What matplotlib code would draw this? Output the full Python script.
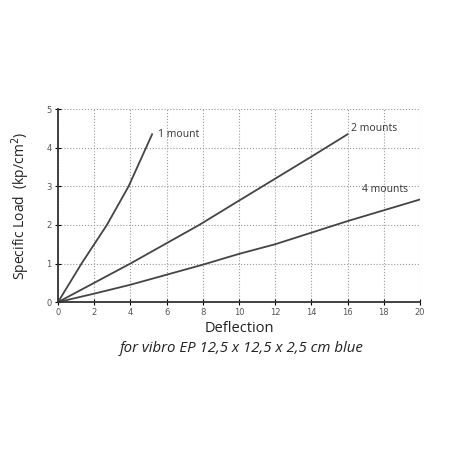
import matplotlib
matplotlib.use('Agg')
import matplotlib.pyplot as plt
import numpy as np

# values
x_one = [0, 1.3, 2.7, 3.9, 5.2]
y_one = [0, 1.0, 2.0, 3.0, 4.35]
x_two = [0, 4.0, 7.8, 10, 12, 14, 16]
y_two = [0, 1.0, 2.0, 2.63, 3.2, 3.77, 4.35]
x_four = [0, 2, 4, 8, 10, 12, 14, 16, 18, 20]
y_four = [0, 0.22, 0.45, 0.97, 1.25, 1.5, 1.8, 2.1, 2.38, 2.66]
xticks = list(range(0, 21, 2))
yticks = list(range(0, 6))

fig = plt.figure(figsize=(4.55, 4.55), dpi=100)
ax = fig.add_axes([0.1275, 0.336, 0.7955, 0.424])

line_kw = dict(color='#444', lw=1.3)
ax.plot(x_one, y_one, **line_kw)
ax.plot(x_two, y_two, **line_kw)
ax.plot(x_four, y_four, **line_kw)

lab_kw = dict(fontsize=7.5, family='Open Sans', color='#333', va='center')
ax.text(5.55, 4.35, '1 mount', **lab_kw)
ax.text(16.2, 4.5, '2 mounts', **lab_kw)
ax.text(16.8, 2.91, '4 mounts', **lab_kw)

ax.set_xlim(0, 20)
ax.set_ylim(0, 5)
ax.set_xticks(xticks)
ax.set_yticks(yticks)
ax.set_xticklabels([str(t) for t in xticks], fontsize=6, color='#555')
ax.set_yticklabels([str(t) for t in yticks], fontsize=6, color='#555')
ax.tick_params(direction='inout', length=4, width=0.8, pad=2.5)
ax.grid(True, color='#999', ls=':', lw=0.8)
for s in ['top', 'right']:
    ax.spines[s].set_visible(False)
for s in ['left', 'bottom']:
    ax.spines[s].set_linewidth(1.3)
    ax.spines[s].set_color('#333')

ax.set_xlabel('Deflection', fontsize=10.5, family='Open Sans', weight='medium',
              color='#222', labelpad=2.5)
ax.set_ylabel('Specific Load  (kp/cm$^2$)', fontsize=10, family='Open Sans',
              weight='medium', color='#222', labelpad=10)
fig.text(0.532, 0.233, 'for vibro EP 12,5 x 12,5 x 2,5 cm blue', fontsize=10.8,
         family='Open Sans', style='italic', color='#222', ha='center', va='center')

fig.savefig('out.png', dpi=100, facecolor='white')
